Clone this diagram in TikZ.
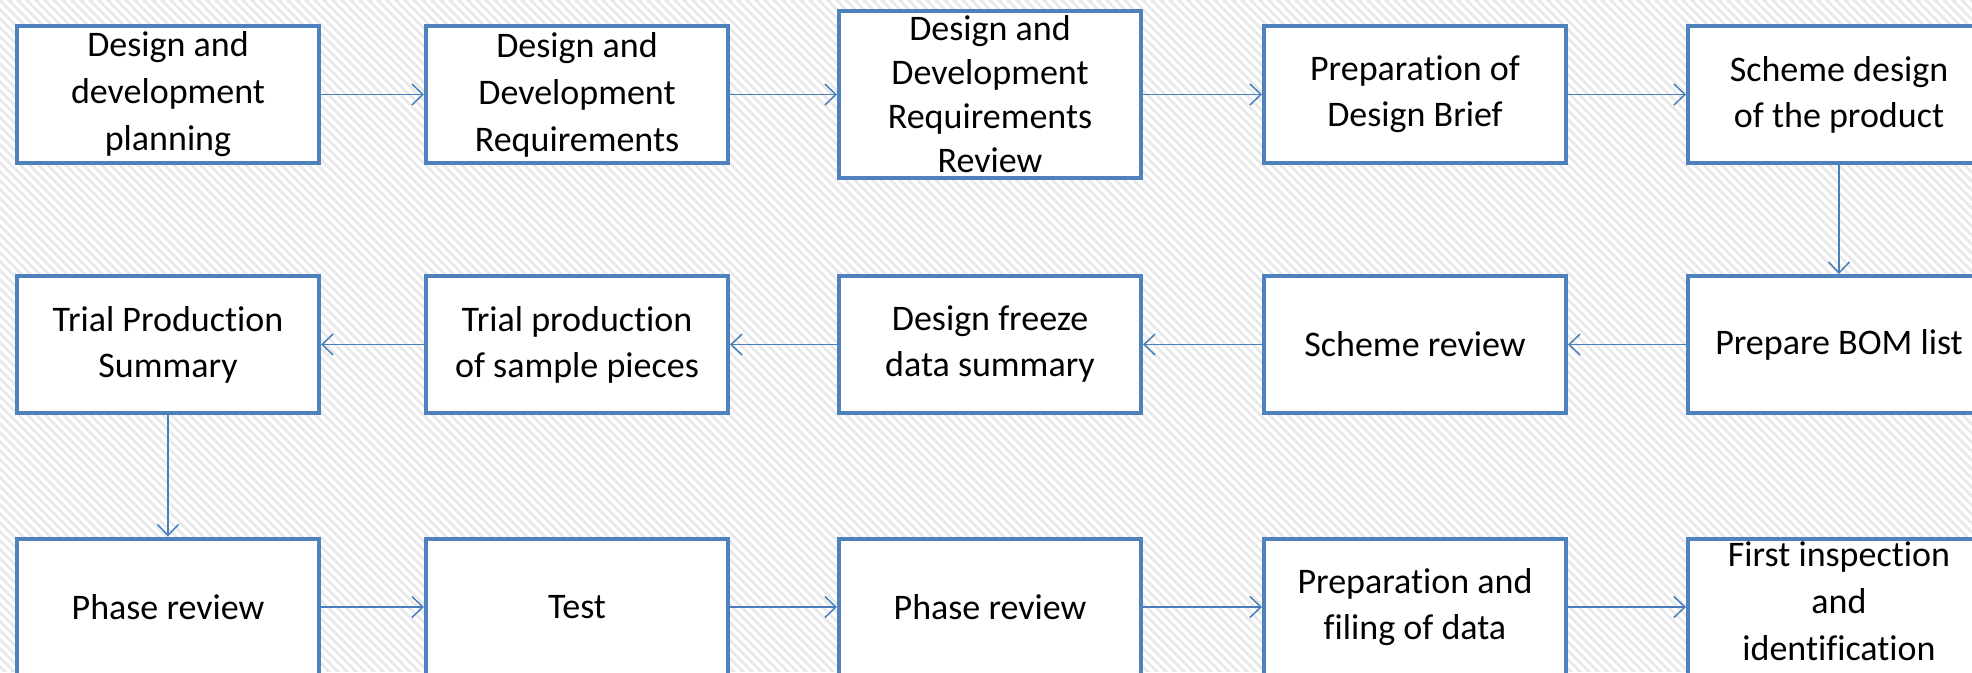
\documentclass[tikz,border=0pt]{standalone}
\usepackage{fontspec}
\setmainfont{Carlito}[Ligatures=NoCommon]
\usetikzlibrary{arrows.meta}
\definecolor{boxblue}{HTML}{4F81BD}
\definecolor{linkblue}{HTML}{4A7EBB}
\definecolor{bggrey}{HTML}{E9E9E9}
\begin{document}
\begin{tikzpicture}[x=1pt,y=-1pt,
  stepbox/.style={draw=boxblue, line width=4pt, fill=white, minimum width=302pt,
    minimum height=137pt, inner sep=0pt, align=center,
    font=\fontsize{36}{46}\selectfont},
  link/.style={draw=linkblue, line width=1.5pt,
    -{Straight Barb[length=11pt,width=21pt]}}]
\useasboundingbox (0,0) rectangle (1972,672);
% background
\fill[bggrey] (0,0) rectangle (1972,672);
\begin{scope}
  \clip (0,0) rectangle (1972,672);
  \foreach \k in {-680,-671,...,1972}
    \draw[white, line width=3.5pt] (\k,0) -- (\k+672,672);
\end{scope}
% row 1
\node[stepbox, font=\fontsize{36}{47}\selectfont] (n1) at (168,94.5) {Design and\\development\\planning};
\node[stepbox, font=\fontsize{36}{47}\selectfont] (n2) at (577,94.5) {Design and\\Development\\Requirements};
\node[stepbox, minimum height=167pt, font=\fontsize{36}{44}\selectfont] (n3) at (990,94.5) {Design and\\Development\\Requirements\\Review};
\node[stepbox] (n4) at (1415,94.5) {Preparation of\\Design Brief};
\node[stepbox] (n5) at (1839,94.5) {Scheme design\\of the product};
% row 2
\node[stepbox] (n6) at (1839,344.5) {Prepare BOM list};
\node[stepbox] (n7) at (1415,344.5) {Scheme review};
\node[stepbox] (n8) at (990,344.5) {Design freeze\\data summary};
\node[stepbox] (n9) at (577,344.5) {Trial production\\of sample pieces};
\node[stepbox] (n10) at (168,344.5) {Trial Production\\Summary};
% row 3
\node[stepbox] (n11) at (168,607) {Phase review};
\node[stepbox] (n12) at (577,607) {Test};
\node[stepbox] (n13) at (990,607) {Phase review};
\node[stepbox] (n14) at (1415,607) {Preparation and\\filing of data};
\node[stepbox] (n15) at (1839,607) {};
\node[font=\fontsize{36}{47}\selectfont, align=center, inner sep=0pt] (t15) at ([yshift=6pt]n15.center) {First inspection\\and\\identification};
% connectors
\draw[link] (n1) -- (n2);
\draw[link] (n2) -- (n3);
\draw[link] (n3) -- (n4);
\draw[link] (n4) -- (n5);
\draw[link] (n5) -- (n6);
\draw[link] (n6) -- (n7);
\draw[link] (n7) -- (n8);
\draw[link] (n8) -- (n9);
\draw[link] (n9) -- (n10);
\draw[link] (n10) -- (n11);
\draw[link] (n11) -- (n12);
\draw[link] (n12) -- (n13);
\draw[link] (n13) -- (n14);
\draw[link] (n14) -- (n15);
\end{tikzpicture}
\end{document}
